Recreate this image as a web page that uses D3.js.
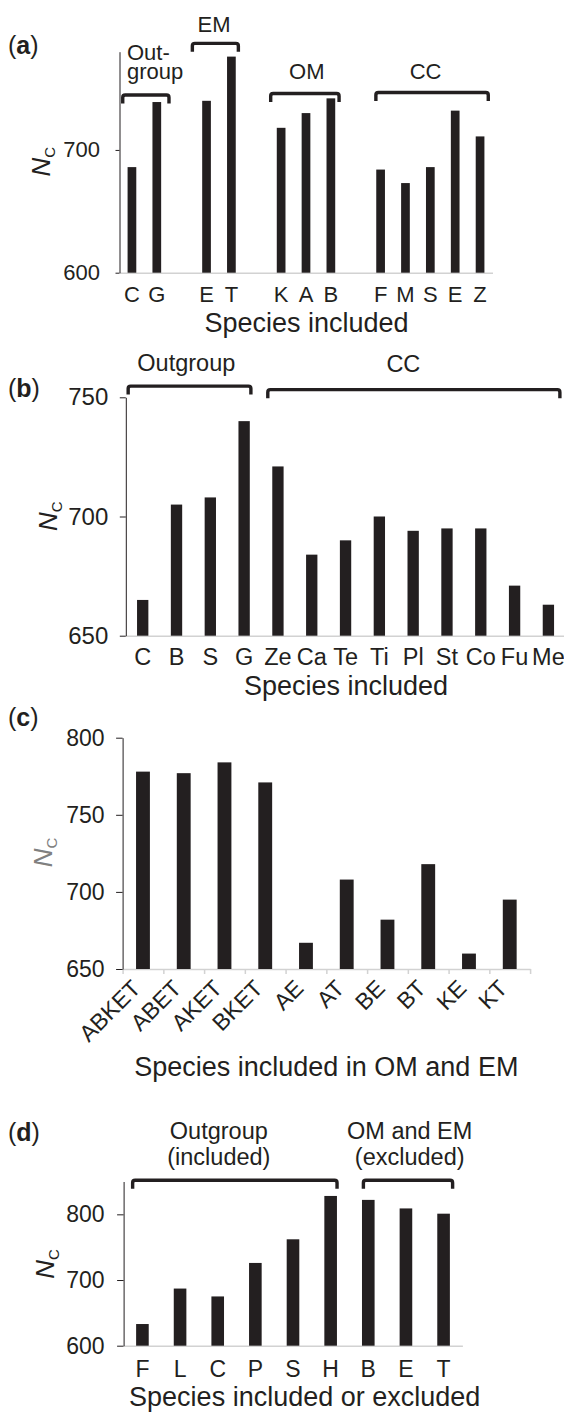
<!DOCTYPE html>
<html>
<head>
<meta charset="utf-8">
<script src="https://cdn.jsdelivr.net/npm/d3@7"></script>
<style>
  body { margin: 0; background: #fff; }
  svg text { font-family: "Liberation Sans", Arial, Helvetica, sans-serif; fill: #231f20; }
</style>
</head>
<body>
<script>
// ---- data ----
// (a) empty strings are the gaps between groups
const catsA = ['C', 'G', '', 'E', 'T', '', 'K', 'A', 'B', '', 'F', 'M', 'S', 'E', 'Z'];
const valsA = [686, 739, null, 740, 776, null, 718, 730, 742, null, 684, 673, 686, 732, 711];
const ticksA = [600, 700];
const groupsA = [
  {lines: ['Out-', 'group'], from: 0.13, to: 1.99, at: 744.7, labelAt: 0.3, labelV: 757.5, anchor: 'start'},
  {lines: ['EM'], from: 2.93, to: 4.78, at: 786.8, labelAt: 3.8, labelV: 796.3, anchor: 'middle'},
  {lines: ['OM'], from: 6.08, to: 8.83, at: 746, labelAt: 7.53, labelV: 757.5, anchor: 'middle'},
  {lines: ['CC'], from: 10.31, to: 14.83, at: 746.8, labelAt: 12.31, labelV: 757.5, anchor: 'middle'}
];

// (b)
const catsB = ['C', 'B', 'S', 'G', 'Ze', 'Ca', 'Te', 'Ti', 'Pl', 'St', 'Co', 'Fu', 'Me'];
const valsB = [665, 705, 708, 740, 721, 684, 690, 700, 694, 695, 695, 671, 663];
const ticksB = [650, 700, 750];
const groupsB = [
  {lines: ['Outgroup'], from: 0.07, to: 3.7, at: 754.7, labelAt: 1.79, labelV: 761, anchor: 'middle'},
  {lines: ['CC'], from: 4.2, to: 12.84, at: 753.2, labelAt: 8.21, labelV: 760.6, anchor: 'middle'}
];

// (c)
const catsC = ['ABKET', 'ABET', 'AKET', 'BKET', 'AE', 'AT', 'BE', 'BT', 'KE', 'KT'];
const valsC = [778, 777, 784, 771, 667, 708, 682, 718, 660, 695];
const ticksC = [650, 700, 750, 800];

// (d)
const catsD = ['F', 'L', 'C', 'P', 'S', 'H', 'B', 'E', 'T'];
const valsD = [633, 687, 675, 726, 762, 828, 822, 809, 801];
const ticksD = [600, 700, 800];
const groupsD = [
  {lines: ['Outgroup', '(included)'], from: 0.24, to: 5.67, at: 852, labelAt: 2.53, labelV: 875, anchor: 'middle'},
  {lines: ['OM and EM', '(excluded)'], from: 6.37, to: 8.74, at: 852, labelAt: 7.6, labelV: 875, anchor: 'middle'}
];

const ink = '#231f20';
const gray = '#d2d2d2';

const svg = d3.select('body').append('svg')
  .attr('width', 564)
  .attr('height', 1412);

const drawPanel = (p) => {
  const n = p.cats.length;
  const x = d3.scaleBand()
    .domain(d3.range(n))
    .range([p.x0, p.x1])
    .paddingInner(p.pad)
    .paddingOuter(p.pad / 2);
  const xi = d3.scaleLinear().domain([0, n]).range([p.x0, p.x1]);
  const y = d3.scaleLinear().domain(p.yDom).range(p.yRange);
  const base = y(p.yDom[0]);

  const g = svg.append('g');

  // x axis: light baseline, labels under bars
  const gx = g.append('g')
    .attr('transform', `translate(0,${base})`)
    .call(d3.axisBottom(x)
      .tickSize(0)
      .tickSizeOuter(0)
      .tickPadding(p.labelOff - 0.71 * p.fs)
      .tickFormat(i => p.cats[i]));
  gx.attr('font-family', null).attr('font-size', p.fs);
  gx.select('.domain').attr('stroke', gray).attr('stroke-width', 1.5);

  if (p.rotate) {
    gx.selectAll('.tick text')
      .attr('y', 0)
      .attr('dy', 0)
      .attr('text-anchor', 'end')
      .attr('transform', `translate(${p.rotDx},${p.rotDy}) rotate(-45)`);
    const gt = g.append('g')
      .attr('transform', `translate(0,${base})`)
      .call(d3.axisBottom(xi).tickValues(d3.range(n + 1)).tickSize(5).tickFormat(''));
    gt.select('.domain').remove();
    gt.selectAll('line').attr('stroke', gray).attr('stroke-width', 1.5);
  }

  // y axis
  const gy = g.append('g')
    .attr('transform', `translate(${p.x0},0)`)
    .call(d3.axisLeft(y)
      .tickValues(p.ticks)
      .tickSize(p.tickLen)
      .tickSizeOuter(0)
      .tickPadding(p.tickPad));
  gy.attr('font-family', null).attr('font-size', p.yfs);
  gy.select('.domain').attr('stroke', ink);
  gy.selectAll('line').attr('stroke', ink);

  // bars
  g.append('g').selectAll('rect')
    .data(p.vals.map((v, i) => ({v, i})).filter(d => d.v != null))
    .join('rect')
    .attr('x', d => x(d.i))
    .attr('width', x.bandwidth())
    .attr('y', d => y(d.v))
    .attr('height', d => base - y(d.v))
    .attr('fill', ink);

  // group brackets
  (p.groups || []).forEach(gr => {
    const a = xi(gr.from), b = xi(gr.to), yy = y(gr.at), h = 8.5, r = 2.5;
    g.append('path')
      .attr('d', `M${a},${yy + h}L${a},${yy + r}Q${a},${yy} ${a + r},${yy}L${b - r},${yy}Q${b},${yy} ${b},${yy + r}L${b},${yy + h}`)
      .attr('fill', 'none')
      .attr('stroke', ink)
      .attr('stroke-width', 3.4);
    // one text element per label, lines as tspans
    const lx = xi(gr.labelAt);
    const top = y(gr.labelV) - (gr.lines.length - 1) * p.lineH;
    const lab = g.append('text')
      .attr('x', lx)
      .attr('y', top)
      .attr('text-anchor', gr.anchor)
      .attr('font-size', p.gfs);
    gr.lines.forEach((t, k) => {
      lab.append('tspan')
        .attr('x', lx)
        .attr('dy', k === 0 ? 0 : p.lineH)
        .text(t);
    });
  });

  // axis title
  g.append('text')
    .attr('x', p.titleX)
    .attr('y', p.titleY)
    .attr('text-anchor', 'middle')
    .attr('font-size', 27)
    .text(p.title);

  // panel tag, letter in bold
  const tag = g.append('text')
    .attr('x', 8)
    .attr('y', p.tagY)
    .attr('font-size', 25);
  tag.append('tspan').text('(');
  tag.append('tspan').attr('font-weight', 'bold').text(p.tag);
  tag.append('tspan').text(')');

  // N_C
  const nc = g.append('text')
    .attr('transform', `translate(${p.ncX},${p.ncY}) rotate(-90)`)
    .attr('text-anchor', 'middle')
    .style('fill', p.ncColor || ink);
  nc.append('tspan').attr('font-size', 26).attr('font-style', 'italic').text('N');
  nc.append('tspan').attr('font-size', 15).attr('dy', 5).text('C');
};

drawPanel({
  tag: 'a', cats: catsA, vals: valsA, ticks: ticksA, groups: groupsA,
  x0: 119.5, x1: 492.5, pad: 0.65,
  yDom: [600, 780], yRange: [272.7, 51.7],
  tickLen: 4, tickPad: 15.5, yfs: 22, fs: 22, labelOff: 29, gfs: 22, lineH: 19.3,
  title: 'Species included', titleX: 306.5, titleY: 332,
  tagY: 53.5, ncX: 50, ncY: 161.7
});

drawPanel({
  tag: 'b', cats: catsB, vals: valsB, ticks: ticksB, groups: groupsB,
  x0: 125.8, x1: 565.3, pad: 0.665,
  yDom: [650, 750], yRange: [635.7, 397.3],
  tickLen: 6, tickPad: 11.5, yfs: 24, fs: 23.5, labelOff: 29.3, gfs: 23.5, lineH: 25,
  title: 'Species included', titleX: 346, titleY: 695,
  tagY: 397, ncX: 56.7, ncY: 516.2
});

drawPanel({
  tag: 'c', cats: catsC, vals: valsC, ticks: ticksC,
  x0: 122.6, x1: 530.1, pad: 0.66,
  yDom: [650, 800], yRange: [969, 737.7],
  tickLen: 6.5, tickPad: 11.5, yfs: 23, fs: 23, labelOff: 20, gfs: 23, lineH: 25,
  rotate: true, rotDx: -1, rotDy: 20.7,
  title: 'Species included in OM and EM', titleX: 326.3, titleY: 1076,
  tagY: 726, ncX: 51.7, ncY: 852.5, ncColor: '#808080'
});

drawPanel({
  tag: 'd', cats: catsD, vals: valsD, ticks: ticksD, groups: groupsD,
  x0: 123.6, x1: 462.4, pad: 0.665,
  yDom: [600, 850], yRange: [1345.7, 1181.5],
  tickLen: 6.5, tickPad: 12.5, yfs: 23, fs: 23, labelOff: 31, gfs: 23.5, lineH: 25.7,
  title: 'Species included or excluded', titleX: 304.7, titleY: 1406,
  tagY: 1140.7, ncX: 54, ncY: 1264
});
</script>
</body>
</html>
